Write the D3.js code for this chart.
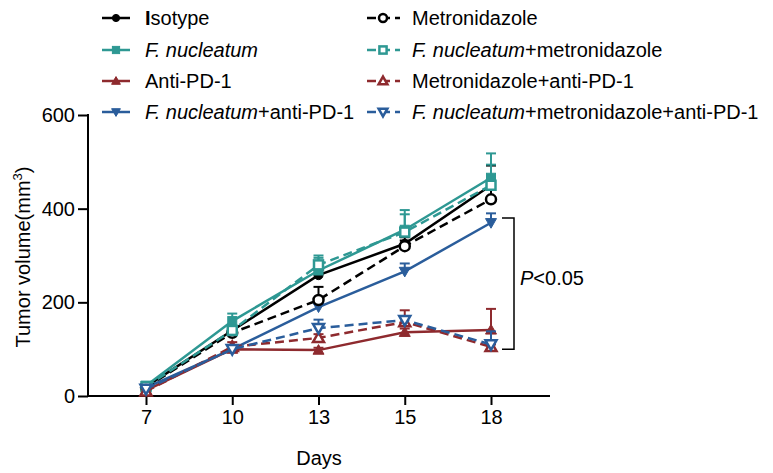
<!DOCTYPE html>
<html><head><meta charset="utf-8">
<script src="https://cdn.jsdelivr.net/npm/d3@7"></script>
<style>body{margin:0;background:#fff}svg{display:block}text{font-family:"Liberation Sans",Arial,sans-serif;fill:#000}</style>
</head><body><svg id="c" width="773" height="473"></svg>
<script>
const days = ["7","10","13","15","18"];
const yTicks = [0,200,400,600];
const isotype     = [20, 140, 258, 325, 450];
const isotypeErr  = [4, 8, 10, 14, 42];
const fn          = [22, 160, 268, 355, 466];
const fnErr       = [5, 16, 32, 42, 52];
const antiPD1     = [12, 100, 98, 136, 141];
const antiPD1Err  = [4, 8, 5, 8, 45];
const fnPD1       = [18, 100, 190, 266, 370];
const fnPD1Err    = [4, 6, 8, 17, 20];
const metro       = [18, 135, 205, 320, 420];
const metroErr    = [4, 8, 28, 12, 20];
const fnMetro     = [20, 140, 280, 350, 450];
const fnMetroErr  = [4, 10, 15, 38, 44];
const metroPD1    = [10, 105, 124, 158, 105];
const metroPD1Err = [4, 10, 8, 25, 5];
const fnMetroPD1  = [15, 100, 145, 162, 110];
const fnMetroPD1Err=[4, 6, 18, 5, 28];
const bracketRange = [380, 100];

const BLACK="#000000", TEAL="#2e9893", RED="#8e2a2e", BLUE="#2a5d9b";
const series = [
 {name:[["I",2],["sotype",0]], v:isotype, e:isotypeErr, c:BLACK, dash:false, m:"circle", fill:true, col:0, row:0},
 {name:[["F. nucleatum",1]], v:fn, e:fnErr, c:TEAL, dash:false, m:"square", fill:true, col:0, row:1},
 {name:[["Anti-PD-1",0]], v:antiPD1, e:antiPD1Err, c:RED, dash:false, m:"up", fill:true, col:0, row:2},
 {name:[["F. nucleatum",1],["+anti-PD-1",0]], v:fnPD1, e:fnPD1Err, c:BLUE, dash:false, m:"down", fill:true, col:0, row:3},
 {name:[["Metronidazole",0]], v:metro, e:metroErr, c:BLACK, dash:true, m:"circle", fill:false, col:1, row:0},
 {name:[["F. nucleatum",1],["+metronidazole",0]], v:fnMetro, e:fnMetroErr, c:TEAL, dash:true, m:"square", fill:false, col:1, row:1},
 {name:[["Metronidazole+anti-PD-1",0]], v:metroPD1, e:metroPD1Err, c:RED, dash:true, m:"up", fill:false, col:1, row:2},
 {name:[["F. nucleatum",1],["+metronidazole+anti-PD-1",0]], v:fnMetroPD1, e:fnMetroPD1Err, c:BLUE, dash:true, m:"down", fill:false, col:1, row:3},
];

const svg = d3.select("#c");
const x = d3.scalePoint().domain(days).range([146,491]);
const y = d3.scaleLinear().domain([0,600]).range([396,115]);

// axes
const xa = svg.append("g").attr("transform","translate(0,396)")
  .call(d3.axisBottom(x).tickSize(9).tickPadding(5));
xa.select(".domain").remove();
xa.append("line").attr("x1",88).attr("x2",550).attr("stroke","#000").attr("stroke-width",2);
xa.selectAll(".tick line").attr("stroke-width",2);
xa.selectAll(".tick text").attr("font-size",20).attr("font-family","Liberation Sans, Arial, sans-serif").attr("fill","#000");

const ya = svg.append("g").attr("transform","translate(88,0)")
  .call(d3.axisLeft(y).tickValues(yTicks).tickSize(10).tickPadding(3));
ya.select(".domain").attr("stroke-width",2).attr("d","M0,"+(y(600)-1)+"V"+(y(0)+1));
ya.selectAll(".tick line").attr("stroke-width",2);
ya.selectAll(".tick text").attr("font-size",20).attr("font-family","Liberation Sans, Arial, sans-serif").attr("fill","#000");

svg.append("text").attr("x",319).attr("y",465).attr("text-anchor","middle").attr("font-size",20).text("Days");
const yl = svg.append("text").attr("transform","translate(30,257) rotate(-90)").attr("text-anchor","middle").attr("font-size",20);
yl.append("tspan").text("Tumor volume(mm");
yl.append("tspan").attr("font-size",13).attr("dy",-8).text("3");
yl.append("tspan").attr("dy",8).text(")");

function marker(g, type, cx, cy, color, fill, scale){
  scale = scale||1;
  let el;
  const sw = 2.5;
  if(type==="circle"){
    el = g.append("circle").attr("cx",cx).attr("cy",cy).attr("r", (fill?4.5:5)*scale);
  } else if(type==="square"){
    const s = 9*scale;
    el = g.append("rect").attr("x",cx-s/2).attr("y",cy-s/2).attr("width",s).attr("height",s);
  } else if(type==="up"){
    const s=5.5*scale;
    el = g.append("path").attr("d",`M${cx},${cy-s}L${cx+s},${cy+s*0.75}L${cx-s},${cy+s*0.75}Z`);
  } else {
    const s=5.5*scale;
    el = g.append("path").attr("d",`M${cx},${cy+s}L${cx+s},${cy-s*0.75}L${cx-s},${cy-s*0.75}Z`);
  }
  el.attr("fill", fill?color:"#fff").attr("stroke",color).attr("stroke-width", fill?1:sw);
}

const line = d3.line().x((d,i)=>x(days[i])).y(d=>y(d));
const plot = svg.append("g");
series.forEach(s=>{
  const g = plot.append("g");
  s.v.forEach((v,i)=>{
    const cx = x(days[i]);
    g.append("line").attr("x1",cx).attr("x2",cx).attr("y1",y(v)).attr("y2",y(v+s.e[i])).attr("stroke",s.c).attr("stroke-width",2);
    g.append("line").attr("x1",cx-5).attr("x2",cx+5).attr("y1",y(v+s.e[i])).attr("y2",y(v+s.e[i])).attr("stroke",s.c).attr("stroke-width",2);
  });
  g.append("path").attr("d",line(s.v)).attr("fill","none").attr("stroke",s.c).attr("stroke-width",2.5)
    .attr("stroke-dasharray", s.dash?"9,5":null);
  s.v.forEach((v,i)=>marker(g, s.m, x(days[i]), y(v), s.c, s.fill));
});

// bracket
svg.append("path").attr("d",`M502,${y(bracketRange[0])}H514V${y(bracketRange[1])}H502`)
  .attr("fill","none").attr("stroke","#000").attr("stroke-width",1.5);
const pt = svg.append("text").attr("x",520).attr("y",285).attr("font-size",20);
pt.append("tspan").attr("font-style","italic").text("P");
pt.append("tspan").text("<0.05");

// legend
const rowY = [18,50,81,112];
series.forEach(s=>{
  const g = svg.append("g");
  const cy = rowY[s.row];
  if(s.col===0){
    g.append("line").attr("x1",102).attr("x2",130).attr("y1",cy).attr("y2",cy).attr("stroke",s.c).attr("stroke-width",2.5);
    marker(g, s.m, 116, cy, s.c, s.fill, 0.8);
  } else {
    g.append("line").attr("x1",367).attr("x2",400).attr("y1",cy).attr("y2",cy).attr("stroke",s.c).attr("stroke-width",2.5).attr("stroke-dasharray","9,5");
    marker(g, s.m, 383, cy, s.c, s.fill, 0.8);
  }
  const t = g.append("text").attr("x", s.col===0?145:412).attr("y",cy+7).attr("font-size",20);
  s.name.forEach(([txt,st])=>{
    const ts = t.append("tspan").text(txt);
    if(st===1) ts.attr("font-style","italic");
    if(st===2) ts.attr("font-weight","bold");
  });
});
</script></body></html>
